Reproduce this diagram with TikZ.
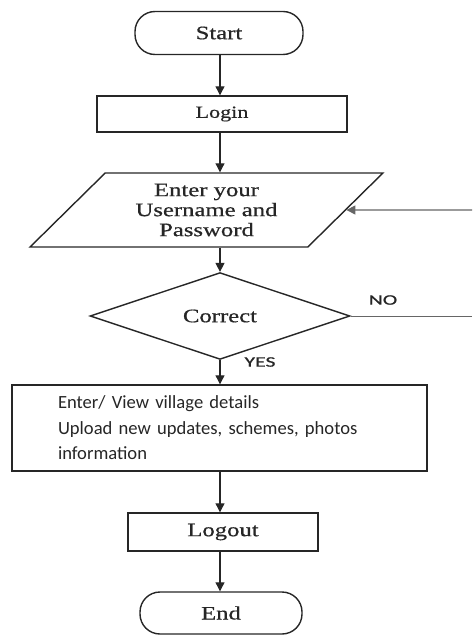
\documentclass[tikz,border=0pt]{standalone}
\usepackage{fontspec}
\setmainfont{Liberation Serif}
\newfontfamily\wideserif[FakeStretch=1.3,FakeBold=0.6]{Liberation Serif}
\newfontfamily\boxsans{Carlito}
\newfontfamily\widesans[FakeStretch=1.5,FakeBold=0.8]{Carlito}
\usetikzlibrary{shapes.geometric,arrows.meta}
\begin{document}
\begin{tikzpicture}[x=1pt,y=-1pt,
  shapebase/.style={draw=black!85, line width=1.4pt, inner sep=0pt,
    font=\wideserif\fontsize{19}{20}\selectfont, text=black!85},
  terminal/.style={shapebase, rectangle, rounded corners=20pt},
  procbox/.style={shapebase, rectangle},
  iobox/.style={shapebase, trapezium, trapezium left angle=45,
    trapezium right angle=135, trapezium stretches=true, align=center},
  decbox/.style={shapebase, diamond},
  flow/.style={draw=black!85, line width=1.1pt, -{Triangle[length=9pt,width=9pt]}},
  plainline/.style={draw=black!60, line width=1pt},
  yn/.style={font=\widesans\fontsize{14.5}{16}\selectfont, text=black!85, inner sep=0pt}
]
\useasboundingbox (0,0) rectangle (472,636);

\node[terminal, minimum width=168pt, minimum height=43pt] (start) at (219,33) {Start};
\node[procbox, minimum width=250pt, minimum height=36pt,
      font=\wideserif\fontsize{17}{20}\selectfont] (login) at (222,114) {Login};
\node[iobox, minimum width=353pt, minimum height=74pt] (input) at (206.5,210)
      {Enter your\\Username and\\Password};
\node[decbox, minimum width=260pt, minimum height=54pt] (dec) at (220,316) {Correct};
\node[procbox, minimum width=415pt, minimum height=86pt, text width=323pt,
      inner xsep=46pt, align=left, font=\boxsans\fontsize{18.6}{25.5}\selectfont]
      (work) at (219.5,428)
      {Enter/ View village details\\Upload new updates, schemes, photos\\information};
\node[procbox, minimum width=190pt, minimum height=38pt] (logout) at (223,532) {Logout};
\node[terminal, minimum width=162pt, minimum height=42pt] (end) at (221,613) {End};

\coordinate (noR) at (472,316);
\coordinate (inR) at (472,210);

\draw[flow] (start.south -| dec.north) -- (login.north -| dec.north);
\draw[flow] (login.south -| dec.north) -- (input.north -| dec.north);
\draw[flow] (input.south -| dec.north) -- (dec.north);
\draw[flow] (dec.south) -- (work.north -| dec.south);
\draw[flow] (work.south -| dec.south) -- (logout.north -| dec.south);
\draw[flow] (logout.south -| dec.south) -- (end.north -| dec.south);

\draw[plainline] (dec.east) -- (noR);
\draw[flow, draw=black!60] (inR) -- (input.east);

\node[yn] (nolab) at (383,300) {NO};
\node[yn] (yeslab) at (260,362) {YES};
\end{tikzpicture}
\end{document}
